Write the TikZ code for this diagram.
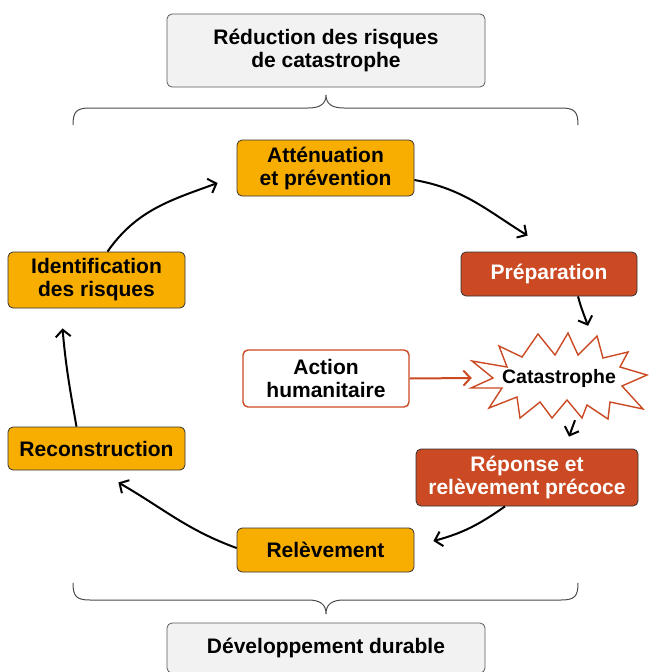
\documentclass[tikz,border=0pt]{standalone}
\usepackage{fontspec}
\setmainfont{Liberation Sans}
\usetikzlibrary{arrows.meta,calc}
\definecolor{orng}{HTML}{F8AE00}
\definecolor{rd}{HTML}{CB4A23}
\definecolor{gbox}{HTML}{F2F2F2}
\begin{document}
\begin{tikzpicture}[x=1pt,y=1pt,
 every node/.style={font=\fontsize{21}{23}\selectfont\bfseries, align=center, inner sep=0pt},
 box/.style={rounded corners=5pt, draw=black!80, line width=0.8pt},
 obox/.style={box, fill=orng, minimum width=177pt},
 rbox/.style={box, fill=rd, text=white},
 gbx/.style={box, fill=gbox, draw=black!65},
 arr/.style={-{Straight Barb[length=7pt,width=15pt]}, line width=2pt},
 brace/.style={draw=black!70, line width=1pt}]
\useasboundingbox (0,0) rectangle (648,-672);
% boxes
\node[gbx, minimum width=318pt, minimum height=73pt] (rdc) at (326,-50.5) {Réduction des risques\\de catastrophe};
\node[gbx, minimum width=318pt, minimum height=50pt] (dev) at (326,-648) {Développement durable};
\node[obox, minimum height=56pt] (aten) at (325.5,-168) {Atténuation\\et prévention};
\node[rbox, minimum width=176pt, minimum height=44pt] (prep) at (549,-274) {Préparation};
\node[box, draw=rd, line width=1.4pt, fill=white, minimum width=166pt, minimum height=57pt] (act) at (326,-378.5) {Action\\humanitaire};
\node[rbox, minimum width=222pt, minimum height=57pt] (rep) at (527,-477.5) {Réponse et\\relèvement précoce};
\node[obox, minimum height=44pt] (relev) at (325.5,-550) {Relèvement};
\node[obox, minimum height=43pt] (recon) at (96.5,-448.5) {Reconstruction};
\node[obox, minimum height=56pt] (ident) at (96.5,-280) {Identification\\des risques};
% starburst
\draw[draw=rd, line width=1.4pt, fill=white, line join=miter]
 (538,-334) -- (555,-355) -- (568,-333) -- (578,-355) -- (597,-336) -- (603,-358)
 -- (628,-352) -- (620,-367) -- (647,-375) -- (622,-386) -- (643,-409) -- (610,-402)
 -- (608,-419) -- (587,-405) -- (582,-418) -- (567,-400) -- (552,-418) -- (540,-402)
 -- (520,-418) -- (517,-397) -- (489,-408) -- (502,-388) -- (471,-388) -- (493,-378)
 -- (472,-361) -- (507,-367) -- (499,-346) -- (522,-357) -- cycle;
\node[minimum width=176pt, minimum height=84pt, font=\fontsize{19.5}{22}\selectfont\bfseries] (cat) at (559,-378) {Catastrophe};
% braces
\draw[brace] (73,-125) .. controls (73,-112) and (76,-108) .. (90,-108) -- (308,-108)
 .. controls (320,-108) and (326,-104) .. (326,-95)
 .. controls (326,-104) and (332,-108) .. (344,-108) -- (561,-108)
 .. controls (575,-108) and (578,-112) .. (578,-125);
\draw[brace] (73,-583) .. controls (73,-596) and (76,-600) .. (90,-600) -- (308,-600)
 .. controls (320,-600) and (326,-604) .. (326,-614)
 .. controls (326,-604) and (332,-600) .. (344,-600) -- (561,-600)
 .. controls (575,-600) and (578,-596) .. (578,-583);
% connectors
\draw[arr] ([xshift=11pt]ident.north) to[out=55,in=200] ($(aten.west)+(-19,-15)$);
\draw[arr] ([yshift=-12pt]aten.east) to[out=-10,in=148] ($(prep.north west)+(67,16)$);
\draw[arr] ([xshift=29pt]prep.south) to[out=-75,in=110] ($(cat.north)+(29,10)$);
\draw[arr] ([xshift=16pt]cat.south) -- ($(rep.north)+(42,12)$);
\draw[arr] ([xshift=-22pt]rep.south) to[out=215,in=15] ($(relev.east)+(19,9)$);
\draw[arr] ([yshift=2pt]relev.west) to[out=160,in=-30] ($(recon.east)+(-67,-34)$);
\draw[arr] ([xshift=-20pt]recon.north) to[out=100,in=-85] ($(ident.south)+(-34,-20)$);
\draw[arr, draw=rd] (act.east) -- ($(cat.west)+(1,0)$);
\end{tikzpicture}
\end{document}
